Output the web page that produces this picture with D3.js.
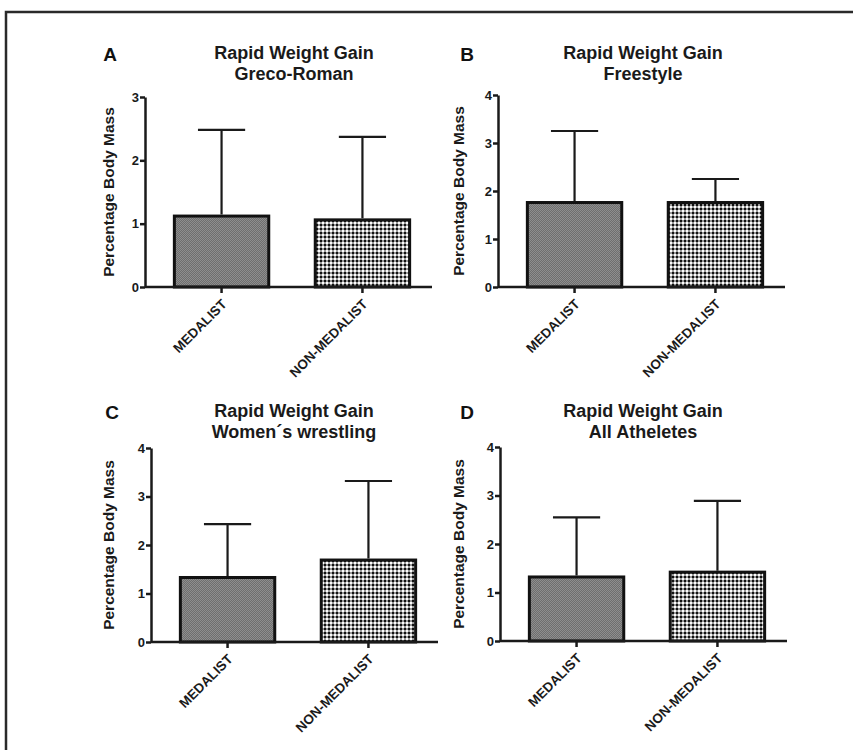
<!DOCTYPE html>
<html>
<head>
<meta charset="utf-8">
<script src="https://cdn.jsdelivr.net/npm/d3@7"></script>
<style>
  body { margin: 0; background: #fff; }
  svg { display: block; font-family: 'Liberation Sans', Arial, sans-serif; }
  .axis path, .axis line { stroke: #1a1a1a; stroke-width: 2.5; }
  .axis text { font-size: 13px; font-weight: bold; fill: #1a1a1a; }
  .title { font-size: 18px; font-weight: bold; fill: #1a1a1a; }
  .letter { font-size: 19px; font-weight: bold; fill: #111; }
  .ylabel { font-size: 15.5px; font-weight: bold; fill: #1a1a1a; }
</style>
</head>
<body>
<div id="container"></div>
<script>
const width = 853;
const height = 750;

const categories = ['MEDALIST', 'NON-MEDALIST'];
const panelLetters = ['A', 'B', 'C', 'D'];
const subtitles = ['Greco-Roman', 'Freestyle', 'Women\u00B4s wrestling', 'All Atheletes'];
const yMaxes = [3, 4, 4, 4];
const yTicks = [[0, 1, 2, 3], [0, 1, 2, 3, 4], [0, 1, 2, 3, 4], [0, 1, 2, 3, 4]];

// mean % body mass regained, per panel [medalist, non-medalist]
const means = [
  [1.12, 1.06],
  [1.76, 1.76],
  [1.33, 1.69],
  [1.32, 1.42],
];
// standard deviation (upper error bar only)
const sds = [
  [1.36, 1.31],
  [1.49, 0.49],
  [1.10, 1.63],
  [1.23, 1.47],
];

// panel placement: y-axis x, top of y-axis, x-axis y
const layout = [
  { x: 145, top: 97, bottom: 287, letterX: 110, titleX: 294, titleY: 59, labelX: 109 },
  { x: 498, top: 95, bottom: 287, letterX: 467, titleX: 643, titleY: 59, labelX: 459 },
  { x: 151, top: 448, bottom: 642, letterX: 112, titleX: 294, titleY: 417, labelX: 109 },
  { x: 500, top: 447, bottom: 641, letterX: 467, titleX: 643, titleY: 417, labelX: 459 },
];

const svg = d3
  .select('#container')
  .append('svg')
  .attr('width', width)
  .attr('height', height);

const defs = svg.append('defs');

// fine grey checker for medalists
const p1 = defs
  .append('pattern')
  .attr('id', 'fine')
  .attr('width', 2)
  .attr('height', 2)
  .attr('patternUnits', 'userSpaceOnUse');
p1.append('rect').attr('width', 2).attr('height', 2).attr('fill', '#6e6e6e');
p1.append('rect').attr('width', 1).attr('height', 1).attr('fill', '#8e8e8e');
p1.append('rect').attr('x', 1).attr('y', 1).attr('width', 1).attr('height', 1).attr('fill', '#8e8e8e');

// coarse black/white checker for non-medalists
const p2 = defs
  .append('pattern')
  .attr('id', 'coarse')
  .attr('width', 4)
  .attr('height', 4)
  .attr('patternUnits', 'userSpaceOnUse');
p2.append('rect').attr('width', 4).attr('height', 4).attr('fill', '#9a9a9a');
p2.append('rect').attr('width', 2).attr('height', 2).attr('fill', '#111');
p2.append('rect').attr('x', 2).attr('y', 2).attr('width', 2).attr('height', 2).attr('fill', '#fcfcfc');

const fills = ['url(#fine)', 'url(#coarse)'];

// frame round the figure (open to the right and bottom)
svg
  .append('path')
  .attr('d', 'M6,760V12H870')
  .attr('fill', 'none')
  .attr('stroke', '#2a2a2a')
  .attr('stroke-width', 2.5);

for (let i = 0; i < 4; i++) {
  const L = layout[i];
  const g = svg.append('g');

  const yScale = d3.scaleLinear().domain([0, yMaxes[i]]).range([L.bottom, L.top]);
  const xScale = d3
    .scaleBand()
    .domain(categories)
    .range([L.x + 4, L.x + 290])
    .paddingInner(0.33)
    .paddingOuter(0.18);

  // letter and title
  g.append('text')
    .attr('class', 'letter')
    .attr('x', L.letterX)
    .attr('y', L.titleY + 2)
    .attr('text-anchor', 'middle')
    .text(panelLetters[i]);
  g.append('text')
    .attr('class', 'title')
    .attr('x', L.titleX)
    .attr('y', L.titleY)
    .attr('text-anchor', 'middle')
    .text('Rapid Weight Gain');
  g.append('text')
    .attr('class', 'title')
    .attr('x', L.titleX)
    .attr('y', L.titleY + 21)
    .attr('text-anchor', 'middle')
    .text(subtitles[i]);

  // y label
  g.append('text')
    .attr('class', 'ylabel')
    .attr('text-anchor', 'middle')
    .attr('transform', 'translate(' + (L.labelX + 5) + ',' + (L.top + L.bottom) / 2 + ') rotate(-90)')
    .text('Percentage Body Mass');

  // bars
  g.selectAll('rect.bar')
    .data(categories)
    .enter()
    .append('rect')
    .attr('class', 'bar')
    .attr('x', d => xScale(d))
    .attr('width', xScale.bandwidth())
    .attr('y', (d, j) => yScale(means[i][j]))
    .attr('height', (d, j) => yScale(0) - yScale(means[i][j]))
    .attr('fill', (d, j) => fills[j])
    .attr('stroke', '#111')
    .attr('stroke-width', 3);

  // error bars (upper only)
  const errs = g.append('g');
  categories.forEach((c, j) => {
    const cx = xScale(c) + xScale.bandwidth() / 2;
    const top = yScale(means[i][j] + sds[i][j]);
    errs
      .append('path')
      .attr('d', 'M' + cx + ',' + (yScale(means[i][j]) - 1.5) + 'V' + top +
        'M' + (cx - xScale.bandwidth() / 4) + ',' + top + 'H' + (cx + xScale.bandwidth() / 4))
      .attr('fill', 'none')
      .attr('stroke', '#1a1a1a')
      .attr('stroke-width', 2.2);
  });

  // y axis
  g.append('g')
    .attr('class', 'axis y-axis')
    .attr('transform', 'translate(' + L.x + ',0)')
    .call(
      d3.axisLeft(yScale)
        .tickValues(yTicks[i])
        .tickFormat(d3.format('d'))
        .tickSizeInner(5)
        .tickSizeOuter(0)
        .tickPadding(1),
    );

  // x axis
  const xAxisSvg = g
    .append('g')
    .attr('class', 'axis x-axis')
    .attr('transform', 'translate(0,' + L.bottom + ')')
    .call(d3.axisBottom(xScale).tickSizeInner(6).tickSizeOuter(0));
  xAxisSvg.select('.domain').attr('d', 'M' + L.x + ',0H' + (L.x + 287));
  xAxisSvg
    .selectAll('text')
    .attr('text-anchor', 'end')
    .attr('x', 0)
    .attr('y', 0)
    .attr('dy', 0)
    .style('font-size', '13.5px')
    .attr('transform', 'translate(6,18) rotate(-45)');
}
</script>
</body>
</html>
